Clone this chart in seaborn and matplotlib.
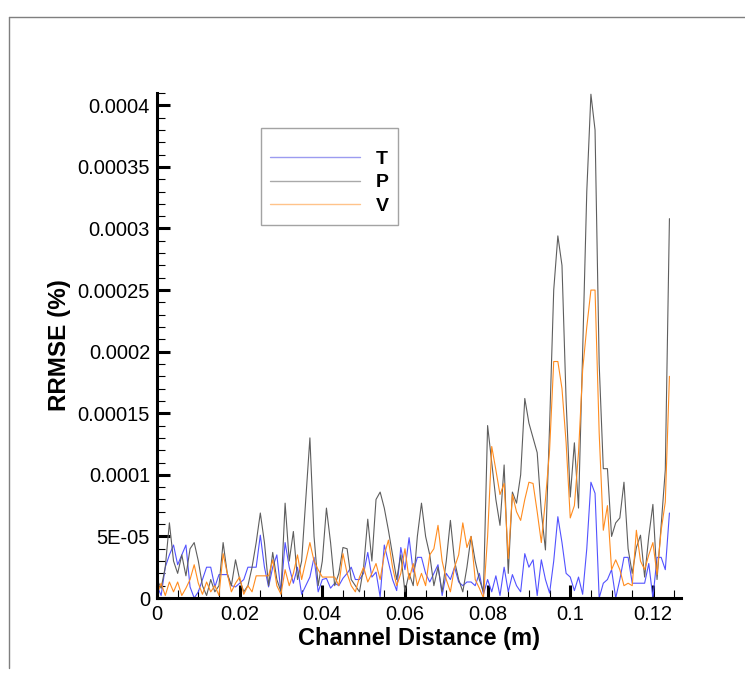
import numpy as np
import pandas as pd
import seaborn as sns
import matplotlib
matplotlib.use("Agg")
import matplotlib.pyplot as plt
from matplotlib.lines import Line2D
from matplotlib.ticker import FixedLocator, FixedFormatter

# Sample positions along the channel (mm)
distance_mm = [
    0, 1, 2, 3, 4, 5, 6, 7, 8, 9, 10, 11, 12, 13, 14, 15, 16, 17, 18, 19,
    20, 21, 22, 23, 24, 25, 26, 27, 28, 29, 30, 31, 32, 33, 34, 35, 36, 37, 38, 39,
    40, 41, 42, 43, 44, 45, 46, 47, 48, 49, 50, 51, 52, 53, 54, 55, 56, 57, 58, 59,
    60, 61, 62, 63, 64, 65, 66, 67, 68, 69, 70, 71, 72, 73, 74, 75, 76, 77, 78, 79,
    80, 81, 82, 83, 84, 85, 86, 87, 88, 89, 90, 91, 92, 93, 94, 95, 96, 97, 98, 99,
    100, 101, 102, 103, 104, 105, 106, 107, 108, 109, 110, 111, 112, 113, 114, 115,
    116, 117, 118, 119, 120, 121, 122, 123, 124,
]

# RRMSE values in units of 1E-05 %
rrmse_T_e5 = [
    1.0, 0.2, 2.5, 3.5, 4.3, 2.7, 3.5, 4.3, 0.9, 0.0, 0.5, 1.5, 2.5, 2.5, 0.9, 1.9, 1.9, 1.9, 1.0, 0.9,
    1.2, 1.5, 2.5, 2.5, 2.5, 5.1, 2.5, 0.9, 2.5, 3.5, 0.5, 4.5, 2.5, 1.2, 2.5, 0.3, 1.0, 1.7, 3.3, 0.5,
    1.5, 1.6, 0.8, 1.2, 1.0, 1.6, 2.0, 2.5, 1.5, 1.5, 2.0, 3.7, 1.7, 2.1, 0.1, 4.3, 2.9, 1.5, 0.6, 4.1,
    2.3, 4.9, 2.1, 3.3, 3.3, 2.0, 1.3, 2.0, 2.7, 0.2, 2.0, 1.5, 2.5, 1.3, 1.0, 1.3, 1.3, 1.0, 2.0, 0.3,
    1.5, 0.5, 1.8, 0.2, 2.5, 0.5, 1.9, 1.0, 0.5, 3.6, 2.5, 3.1, 0.2, 3.1, 1.5, 0.4, 3.0, 6.6, 4.5, 2.0,
    1.7, 0.6, 1.7, 0.3, 4.0, 9.4, 8.5, 0.0, 1.2, 1.5, 2.3, 0.0, 1.5, 3.3, 3.3, 1.2,
    1.2, 1.2, 1.2, 2.8, 0.0, 3.3, 3.3, 2.3, 6.9,
]
rrmse_P_e5 = [
    1.5, 0.8, 2.5, 6.1, 3.0, 2.0, 3.5, 1.8, 4.0, 4.5, 3.0, 1.0, 0.2, 1.5, 0.5, 1.0, 4.5, 2.0, 1.0, 3.1,
    1.5, 0.5, 1.0, 2.5, 4.5, 6.9, 4.5, 1.0, 3.7, 1.5, 0.5, 7.7, 3.0, 5.4, 1.5, 3.0, 8.0, 13.0, 5.0, 1.0,
    3.0, 7.3, 4.5, 1.0, 2.0, 4.1, 4.0, 1.5, 1.0, 0.5, 2.5, 6.4, 3.0, 8.0, 8.6, 7.3, 5.5, 3.5, 1.5, 3.5,
    0.5, 2.0, 1.0, 5.0, 7.7, 5.0, 3.5, 1.0, 2.5, 0.5, 3.0, 6.3, 3.0, 1.5, 0.5, 2.5, 5.0, 3.0, 1.5, 0.5,
    14.0, 11.0, 8.0, 5.9, 10.8, 2.0, 8.6, 7.7, 10.0, 16.2, 14.2, 13.0, 11.8, 7.0, 3.9, 14.0, 25.0, 29.4, 27.0, 16.0,
    8.2, 12.6, 7.3, 20.0, 33.0, 40.9, 38.0, 19.0, 10.5, 10.5, 5.0, 6.1, 6.5, 9.4, 4.0, 2.0,
    4.1, 5.1, 1.7, 5.0, 7.6, 1.5, 5.9, 10.4, 30.8,
]
rrmse_V_e5 = [
    0.3, 1.2, 0.2, 1.3, 0.5, 1.3, 0.2, 0.8, 1.5, 2.7, 1.2, 0.3, 1.3, 0.5, 1.0, 0.2, 3.6, 2.0, 0.5, 1.2,
    1.7, 0.3, 1.0, 0.5, 1.8, 1.8, 1.8, 1.8, 3.1, 1.0, 0.3, 2.3, 1.0, 2.0, 3.5, 1.5, 3.0, 4.5, 3.0, 2.3,
    1.7, 1.7, 1.7, 1.7, 1.0, 3.6, 2.0, 1.0, 0.5, 1.7, 2.5, 1.3, 2.0, 2.8, 1.5, 3.5, 4.7, 2.5, 1.0, 2.0,
    4.0, 1.5, 2.8, 1.0, 2.0, 1.0, 3.5, 4.0, 5.9, 3.0, 1.5, 0.5, 2.5, 3.5, 6.1, 4.1, 5.0, 1.5, 0.8, 0.0,
    5.0, 12.3, 10.4, 8.4, 9.3, 3.2, 8.4, 7.0, 6.3, 8.0, 9.4, 9.3, 7.0, 4.5, 8.0, 12.0, 19.2, 19.2, 17.0, 12.6,
    6.5, 7.5, 11.8, 18.5, 22.0, 25.0, 25.0, 13.4, 5.5, 7.5, 2.3, 3.1, 2.3, 1.0, 1.2, 1.0,
    5.5, 3.0, 2.3, 3.5, 4.5, 1.9, 5.5, 7.8, 18.0,
]

variables = ["T", "P", "V"]
line_colors = {"T": "#5252ff", "P": "#5e5e5e", "V": "#ff8c1f"}
legend_colors = {"T": "#9c9cf0", "P": "#a9a9a9", "V": "#ffc38a"}

x_ticks = [0.0, 0.02, 0.04, 0.06, 0.08, 0.10, 0.12]
x_tick_labels = ["0", "0.02", "0.04", "0.06", "0.08", "0.1", "0.12"]
y_ticks = [0.0, 5e-5, 1e-4, 1.5e-4, 2e-4, 2.5e-4, 3e-4, 3.5e-4, 4e-4]
y_tick_labels = ["0", "5E-05", "0.0001", "0.00015", "0.0002", "0.00025",
                 "0.0003", "0.00035", "0.0004"]

dist_m = np.array(distance_mm, dtype=float) / 1000.0
frames = []
for name, vals in zip(variables, [rrmse_T_e5, rrmse_P_e5, rrmse_V_e5]):
    frames.append(pd.DataFrame({
        "distance": dist_m,
        "rrmse": np.array(vals, dtype=float) * 1e-5,
        "var": name,
    }))
df = pd.concat(frames, ignore_index=True)

sns.set_style("white")
plt.rcParams["font.family"] = ["Liberation Sans", "DejaVu Sans"]
plt.rcParams["text.color"] = "black"
plt.rcParams["axes.labelcolor"] = "black"

fig = plt.figure(figsize=(7.45, 6.73), dpi=100)
ax = fig.add_axes([157 / 745, 75 / 673, 524 / 745, 505 / 673])

sns.lineplot(data=df, x="distance", y="rrmse", hue="var", hue_order=variables,
             palette=line_colors, estimator=None, sort=False, linewidth=0.8,
             legend=False, ax=ax)

ax.set_xlim(0, 0.1268)
ax.set_ylim(0, 0.00041)

ax.xaxis.set_major_locator(FixedLocator(x_ticks))
ax.xaxis.set_major_formatter(FixedFormatter(x_tick_labels))
ax.xaxis.set_minor_locator(FixedLocator(np.arange(0, 0.1265, 0.005)))
ax.yaxis.set_major_locator(FixedLocator(y_ticks))
ax.yaxis.set_major_formatter(FixedFormatter(y_tick_labels))
ax.yaxis.set_minor_locator(FixedLocator(np.arange(0, 0.000411, 0.00001)))

ax.tick_params(axis="x", which="both", bottom=True, top=False)
ax.tick_params(axis="y", which="both", left=True, right=False)
ax.tick_params(which="major", direction="in", length=9.5, width=2.2,
               labelsize=14.5, pad=5, color="black", labelcolor="black")
ax.tick_params(which="minor", direction="in", length=5.8, width=0.8, color="black")

for side in ["top", "right"]:
    ax.spines[side].set_visible(False)
for side in ["left", "bottom"]:
    ax.spines[side].set_linewidth(2.2)
    ax.spines[side].set_color("black")

ax.set_xlabel("Channel Distance (m)", fontsize=17, fontweight="bold", labelpad=2,
              color="black")
ax.set_ylabel("RRMSE (%)", fontsize=17.5, fontweight="bold", labelpad=5,
              color="black")

handles = [Line2D([], [], color=legend_colors[v], lw=1.0) for v in variables]
leg = ax.legend(handles, variables, loc="upper left", bbox_to_anchor=(0.198, 0.931),
                borderaxespad=0, frameon=True, fancybox=False, edgecolor="#8c8c8c",
                prop={"weight": "bold", "size": 14}, handlelength=4.6,
                handletextpad=0.8, labelspacing=0.3, borderpad=0.5,
                title=" ", title_fontproperties={"size": 5})
leg.get_frame().set_linewidth(1.0)
for txt in leg.get_texts():
    txt.set_color("black")

# Outer page frame
fig.add_artist(Line2D([9 / 745, 1.0], [1 - 17 / 673, 1 - 17 / 673],
                      transform=fig.transFigure, color="#7f7f7f", lw=1.0))
fig.add_artist(Line2D([9 / 745, 9 / 745], [1 - 17 / 673, 1 - 668 / 673],
                      transform=fig.transFigure, color="#7f7f7f", lw=1.0))

fig.savefig("out.png", dpi=100, facecolor="white")
